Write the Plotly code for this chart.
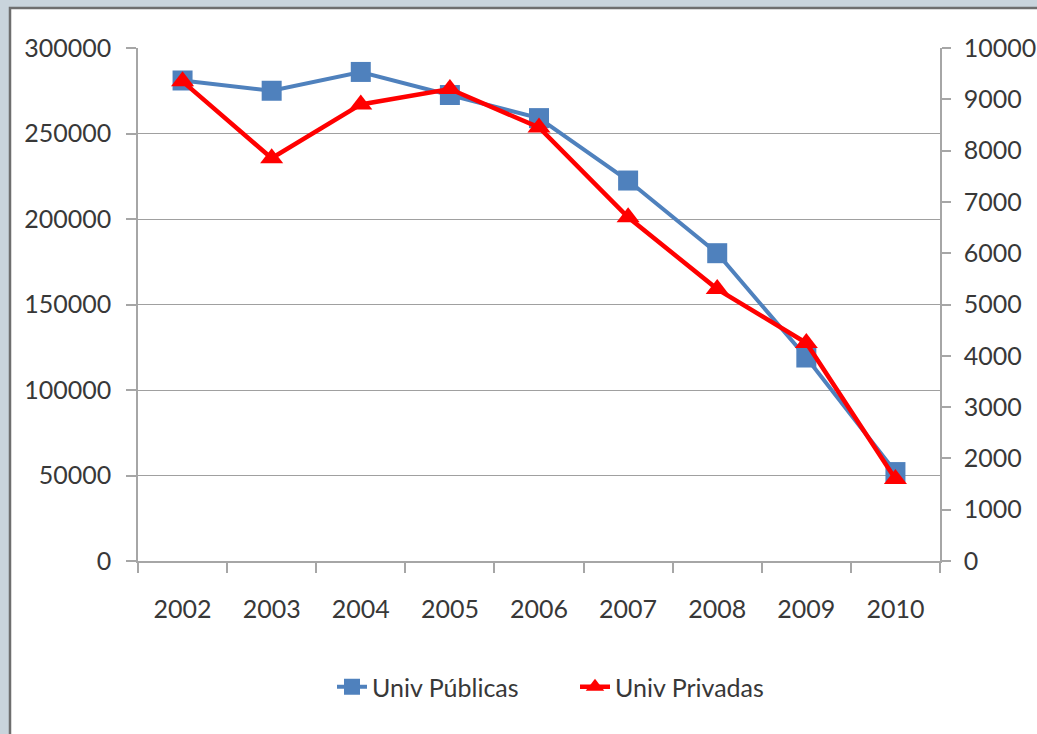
import plotly.graph_objects as go

# ---------------------------------------------------------------------
# Data
# ---------------------------------------------------------------------
years = ["2002", "2003", "2004", "2005", "2006", "2007", "2008", "2009", "2010"]
univ_publicas = [281000, 275000, 286000, 272500, 259000, 222500, 180000, 119000, 52000]
univ_privadas = [9350, 7850, 8900, 9200, 8450, 6700, 5300, 4250, 1600]

BLUE = "#4f81bd"
RED = "#ff0000"
TEXT = "#383838"
AXIS = "#a6a6a6"
FONT = "Lato, Open Sans, sans-serif"

# plot area in pixels (1037 x 734 canvas)
L, R, T, B = 138, 97, 48, 173
W, H = 1037, 734
pw, ph = W - L - R, H - T - B


def px_x(px):
    return (px - L) / pw


def px_y(py):
    return (H - B - py) / ph


fig = go.Figure()

fig.add_trace(go.Scatter(
    x=years, y=univ_publicas, name="Univ Públicas", mode="lines+markers",
    line=dict(color=BLUE, width=4),
    marker=dict(symbol="square", size=20, color=BLUE),
    yaxis="y",
))
fig.add_trace(go.Scatter(
    x=years, y=univ_privadas, name="Univ Privadas", mode="lines+markers",
    line=dict(color=RED, width=4.5),
    marker=dict(symbol="triangle-up", size=20, color=RED),
    yaxis="y2",
))

fig.update_layout(
    width=W, height=H,
    margin=dict(l=L, r=R, t=T, b=B, autoexpand=False),
    paper_bgcolor="#c9d4dc",
    plot_bgcolor="white",
    font=dict(family=FONT, size=25, color=TEXT),
    showlegend=True,
    legend=dict(
        orientation="h", x=px_x(332), xanchor="left", y=px_y(687), yanchor="middle",
        font=dict(size=25, color=TEXT), bgcolor="rgba(0,0,0,0)",
        itemwidth=30, entrywidth=198, tracegroupgap=0,
    ),
    xaxis=dict(
        type="category", range=[-0.5, len(years) - 0.5],
        showgrid=False, showline=True, linecolor=AXIS, linewidth=1.5,
        ticks="outside", tickson="boundaries", ticklen=10, tickcolor=AXIS, tickwidth=1.5,
        ticklabelstandoff=25, zeroline=False,
    ),
    yaxis=dict(
        range=[0, 300000], dtick=50000, showgrid=True, gridcolor="#a0a0a0", gridwidth=1.2,
        showline=True, linecolor=AXIS, linewidth=1.5,
        ticks="outside", ticklen=10, tickcolor=AXIS, tickwidth=1.5,
        ticklabelstandoff=10, zeroline=False, tickformat="d",
    ),
    yaxis2=dict(
        range=[0, 10000], dtick=1000, overlaying="y", side="right", showgrid=False,
        showline=True, linecolor=AXIS, linewidth=1.5,
        ticks="outside", ticklen=9, tickcolor=AXIS, tickwidth=1.5,
        ticklabelstandoff=8, zeroline=False, tickformat="d",
    ),
    shapes=[
        # white chart panel with a dark frame at the top and left
        dict(type="rect", xref="paper", yref="paper", layer="below",
             x0=px_x(10), x1=px_x(W + 20), y0=px_y(8), y1=px_y(H + 20),
             fillcolor="white", line=dict(color="#6e6e6e", width=2.5)),
    ],
)

# drop the page's default body margin so the figure sits at the window's corner
fig.write_html(
    "out.html",
    config={"displayModeBar": False},
    post_script="document.body.style.margin='0';",
)
